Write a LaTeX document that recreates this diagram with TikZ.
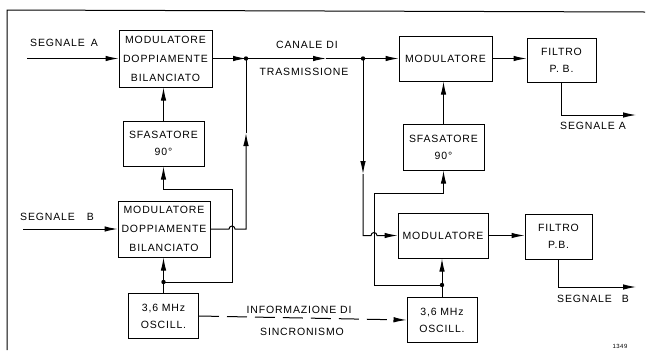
\documentclass[tikz,border=0pt]{standalone}
\usepackage{fontspec}
\setmainfont{Liberation Sans}[LetterSpace=8]
\usetikzlibrary{arrows.meta}
\begin{document}
\begin{tikzpicture}[x=1bp,y=-1bp,
  every node/.style={inner sep=0pt},
  txt/.style={font=\fontsize{10.5bp}{19bp}\selectfont, align=center},
  txttwo/.style={font=\fontsize{10.5bp}{17bp}\selectfont, align=center},
  box/.style={draw, line width=1bp},
  wire/.style={line width=1bp},
  arr/.style={wire, -{Latex[length=13bp,width=5.5bp]}},
  dashwire/.style={arr, dash pattern=on 20bp off 8bp}]
\useasboundingbox (0,0) rectangle (646,350);

% frame
\draw[wire] (7,350) -- (7,10) -- (645,12);

% left column
\node[box,txt,minimum width=93bp,minimum height=57bp] (mA) at (165.5,58.5) {MODULATORE\\DOPPIAMENTE\\BILANCIATO};
\node[box,txttwo,minimum width=81bp,minimum height=45bp] (sA) at (163.5,143.5) {SFASATORE\\90°};
\node[box,txt,minimum width=92bp,minimum height=56bp] (mB) at (164,229) {MODULATORE\\DOPPIAMENTE\\BILANCIATO};
\node[box,txttwo,minimum width=70bp,minimum height=45bp] (oA) at (163.5,316) {3,6 MHz\\OSCILL.};

% right column
\node[box,txt,minimum width=93bp,minimum height=45bp] (m2A) at (445.5,58.5) {MODULATORE};
\node[box,txttwo,minimum width=69bp,minimum height=44bp] (fA) at (561.5,60.5) {FILTRO\\P. B.};
\node[box,txttwo,minimum width=81bp,minimum height=46bp] (s2) at (443.5,147) {SFASATORE\\90°};
\node[box,txt,minimum width=90bp,minimum height=45bp] (m2B) at (443,235.5) {MODULATORE};
\node[box,txttwo,minimum width=67bp,minimum height=45bp] (fB) at (558.5,236.5) {FILTRO\\P.B.};
\node[box,txttwo,minimum width=70bp,minimum height=45bp] (o2) at (442,320) {3,6 MHz\\OSCILL.};

% labels
\node[txt] (lA) at (64,43) {SEGNALE\hspace{6bp}A};
\node[txt] (lB) at (57,217) {SEGNALE\hspace{12bp}B};
\node[txt] (lc1) at (307,45) {CANALE\hspace{4bp}DI};
\node[txt] (lc2) at (304,72) {TRASMISSIONE};
\node[txt] (li1) at (299,310) {INFORMAZIONE DI};
\node[txt] (li2) at (302,332) {SINCRONISMO};
\node[txt] (lA2) at (593,126) {SEGNALE\hspace{4bp}A};
\node[txt] (lB2) at (593,299) {SEGNALE\hspace{10bp}B};
\node[font=\fontsize{6bp}{7bp}\selectfont] (num) at (620,346) {1349};

% coordinates
\coordinate (inA) at (27,58.5);
\coordinate (inB) at (23,229);
\coordinate (d1) at (246,58.5);
\coordinate (d2) at (363,58.5);
\coordinate (c1) at (326,58.5);
\coordinate (c2) at (246,133);
\coordinate (c3) at (363,174);
\coordinate (j1) at (163.5,282);
\coordinate (j2) at (442,285);
\coordinate (k1) at (232,189);
\coordinate (k2) at (374,193);
\coordinate (e1) at (636,115);
\coordinate (e2) at (636,287);

% inputs
\draw[arr] (inA) -- (mA.west);
\draw[arr] (inB) -- (mB.west);

% top channel
\draw[arr] (mA.east) -- (d1);
\draw[arr] (d1) -- (c1);
\draw[wire] (c1) -- (d2);
\draw[arr] (d2) -- (m2A.west);
\draw[arr] (m2A.east) -- (m2A.east -| fA.west);
\draw[arr] (fA.south) |- (e1);

% left phase shifter
\draw[arr] (sA.north) -- (sA.north |- mA.south);
\draw[wire] (oA.north) -- (j1);
\draw[arr] (j1) -- (j1 |- mB.south);
\draw[arr] (j1) -| (k1) -| (sA.south);

% MDB-B output up to channel
\draw[arr] (mB.east) -- ([xshift=-3bp]mB.east -| k1) arc[start angle=180,end angle=0,radius=3bp] -- (mB.east -| c2) -- (c2);
\draw[wire] (c2) -- (d1);

% right side
\draw[arr] (d2) -- (c3);
\draw[arr] (c3) -- (c3 |- m2B.west) -- ([xshift=-3bp]m2B.west -| k2) arc[start angle=180,end angle=0,radius=3bp] -- (m2B.west);
\draw[arr] (s2.north) -- (s2.north |- m2A.south);
\draw[wire] (o2.north) -- (j2);
\draw[arr] (j2) -- (j2 |- m2B.south);
\draw[arr] (j2) -| (k2) -| (s2.south);
\draw[arr] (m2B.east) -- (m2B.east -| fB.west);
\draw[arr] (fB.south) |- (e2);

% sync info
\draw[dashwire] (oA.east) -- (o2.west);

% junction dots
\fill (d1) circle[radius=2.2bp];
\fill (d2) circle[radius=2.2bp];
\fill (j1) circle[radius=2.2bp];
\fill (j2) circle[radius=2.2bp];
\end{tikzpicture}
\end{document}
